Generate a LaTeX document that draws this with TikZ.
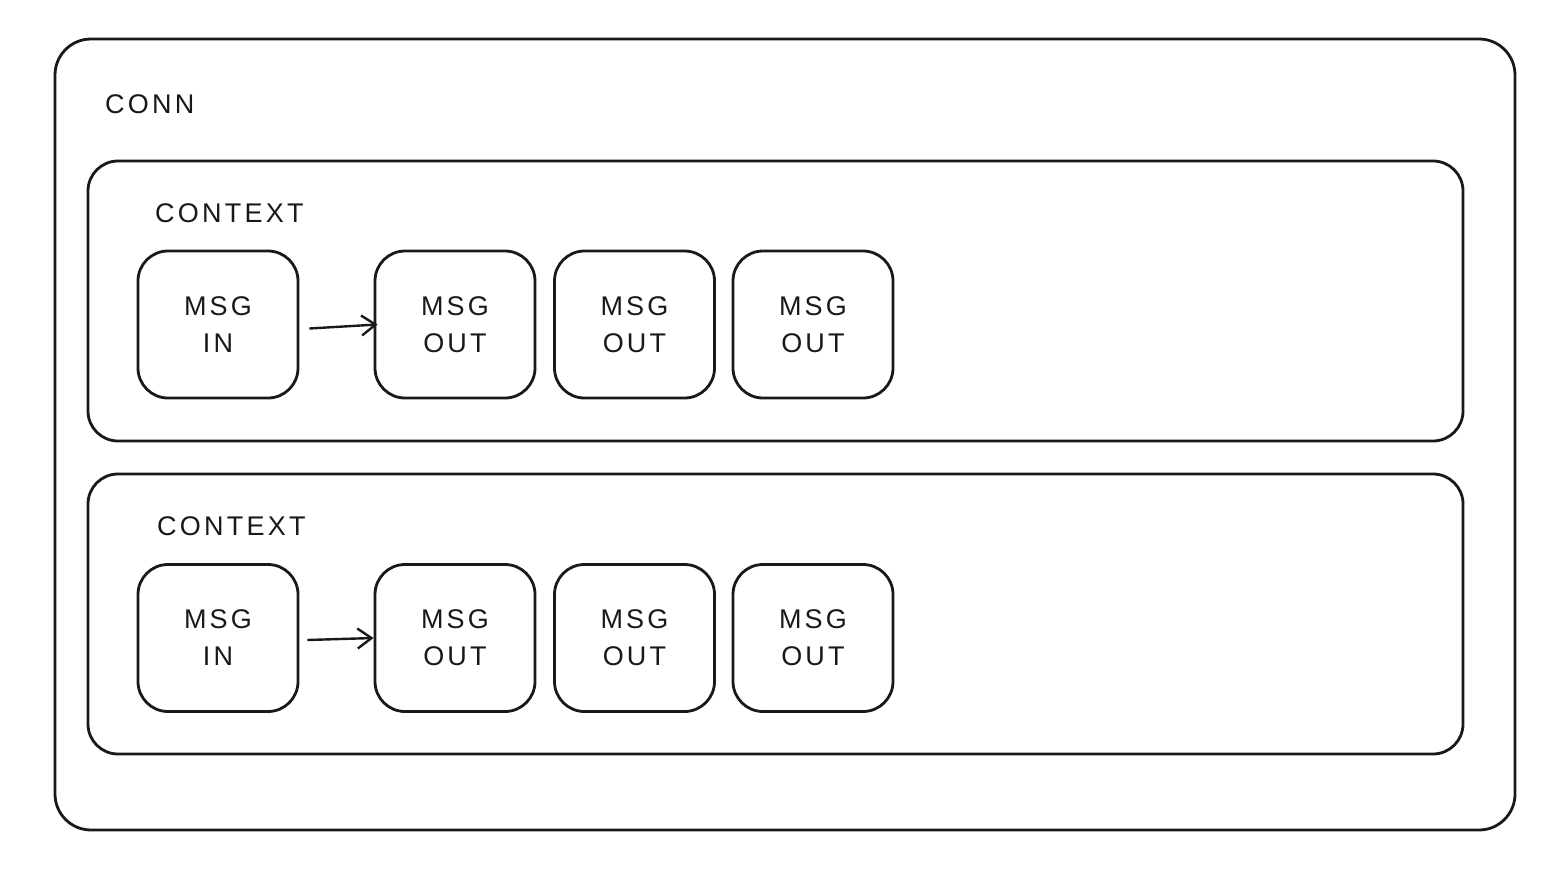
\documentclass[tikz,border=0pt]{standalone}
\usepackage{fontspec}
\setmainfont{Liberation Sans}
\newfontfamily\sketchfont[LetterSpace=12]{Liberation Sans}
\usetikzlibrary{arrows.meta}
\begin{document}
\begin{tikzpicture}[x=1pt,y=-1pt,
  frame/.style={draw=black!90, line width=2.8pt, rounded corners=30pt, inner sep=0pt},
  msgbox/.style={frame, minimum width=160pt, minimum height=147pt, align=center,
     font=\sketchfont\fontsize{27}{37}\selectfont, text=black!90},
  lbl/.style={anchor=west, inner sep=0pt, font=\sketchfont\fontsize{27}{32}\selectfont, text=black!90},
  flow/.style={draw=black!90, line width=2.4pt, -{Straight Barb[length=14pt,width=20pt,line width=2.4pt]}}
]
\useasboundingbox (0,0) rectangle (1558,878);
\node[frame, rounded corners=36pt, minimum width=1460pt, minimum height=791pt] (conn) at (785,434.5) {};
\node[lbl] (connlbl) at (105,104) {CONN};

\node[frame, minimum width=1375pt, minimum height=280pt] (ctx1) at (775.5,301) {};
\node[lbl] (ctx1lbl) at (155,213) {CONTEXT};
\node[msgbox] (in1) at (218,324.5) {MSG\\IN};
\node[msgbox] (o11) at (455,324.5) {MSG\\OUT};
\node[msgbox] (o12) at (634.5,324.5) {MSG\\OUT};
\node[msgbox] (o13) at (813,324.5) {MSG\\OUT};
\draw[flow] ([xshift=10pt,yshift=-4pt]in1.east) -- ([xshift=4pt]o11.west);

\node[frame, minimum width=1375pt, minimum height=280pt] (ctx2) at (775.5,614) {};
\node[lbl] (ctx2lbl) at (157,526) {CONTEXT};
\node[msgbox] (in2) at (218,638) {MSG\\IN};
\node[msgbox] (o21) at (455,638) {MSG\\OUT};
\node[msgbox] (o22) at (634.5,638) {MSG\\OUT};
\node[msgbox] (o23) at (813,638) {MSG\\OUT};
\draw[flow] ([xshift=8pt,yshift=-2pt]in2.east) -- (o21.west);
\end{tikzpicture}
\end{document}
